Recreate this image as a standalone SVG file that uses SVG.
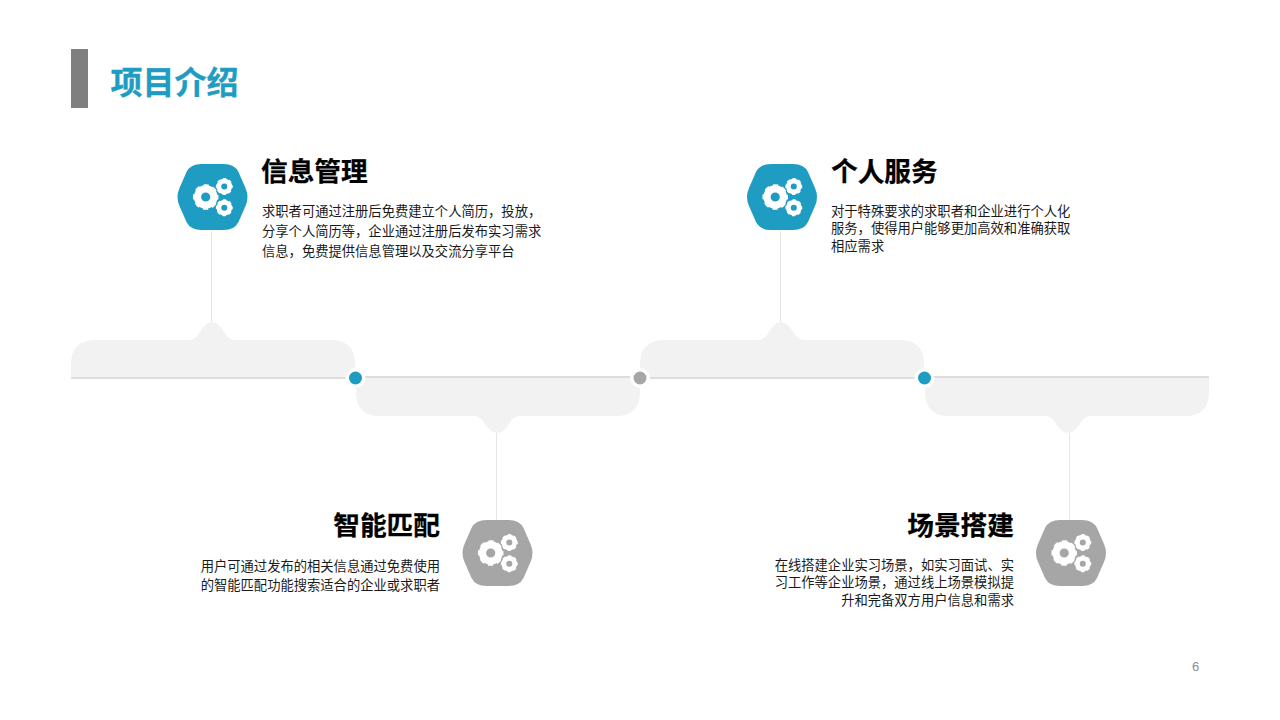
<svg xmlns="http://www.w3.org/2000/svg" width="1280" height="720" viewBox="0 0 1280 720">
<style>
text{font-family:"Noto Sans CJK SC","Liberation Sans",sans-serif}
.h{font-size:26.7px;font-weight:700;fill:#000;stroke:#000;stroke-width:.25}
.b{font-size:13.3px;fill:#1a1a1a}
.r{text-anchor:end}
.band{fill:#f2f2f2}
.v{stroke:#e6e6e6;stroke-width:1;fill:none}
.ring{fill:#fff}
</style>
<defs>
<path id="hex" d="M-11 -33H11Q22 -33 26 -25L33 -9Q37 0 33 9L26 25Q22 33 11 33H-11Q-22 33 -26 25L-33 9Q-37 0 -33 -9L-26 -25Q-22 -33 -11 -33Z"/>
<g id="gear" fill="none" stroke="#fff">
<circle r="8.2" stroke-width="7.2"/>
<circle r="11.2" stroke-width="3.2" stroke-dasharray="5 3.8" stroke-dashoffset="2.5"/>
</g>
<g id="gears">
<use href="#gear" x="-5.300" y="0"/>
<use href="#gear" transform="translate(13.300 -10.500) scale(.66)"/>
<use href="#gear" transform="translate(13.300 10.700) scale(.66)"/>
</g>
</defs>
<rect x="71" y="49" width="17" height="59" fill="#7f7f7f"/>
<text x="110.500" y="94" font-size="32" font-weight="700" fill="#1f9cc2" stroke="#1f9cc2" stroke-width=".3">项目介绍</text>
<g id="connectors">
<path class="band" d="M71 378V364Q71 340 95 340H189Q194 340 198 335Q205 322 212 322Q219 322 226 335Q230 340 236 340H331Q355 340 355 364V378Z"/>
<path class="band" d="M640 378V364Q640 340 664 340H758Q763 340 767 335Q774 322 781 322Q788 322 795 335Q799 340 805 340H900Q924 340 924 364V378Z"/>
<path class="band" d="M356 378V392Q356 416 380 416H474Q479 416 483 421Q490 433 497 433Q504 433 511 421Q515 416 520 416H616Q640 416 640 392V378Z"/>
<path class="band" d="M925 378V392Q925 416 949 416H1045Q1050 416 1054 421Q1061 433 1068 433Q1075 433 1082 421Q1086 416 1091 416H1185Q1209 416 1209 392V378Z"/>
<path d="M71 378H355" stroke="#dedede" stroke-width="2" fill="none"/>
<path d="M355 377H640" stroke="#dedede" stroke-width="2" fill="none"/>
<path d="M640 378H924" stroke="#dedede" stroke-width="2" fill="none"/>
<path d="M924 377H1209" stroke="#dedede" stroke-width="2" fill="none"/>
<path class="v" d="M211.500 231V322"/>
<path class="v" d="M496.500 433V520"/>
<path class="v" d="M780.500 231V322"/>
<path class="v" d="M1069.500 433V520"/>
</g>
<g id="dot1"><circle class="ring" cx="355.500" cy="378" r="10"/><circle cx="355.500" cy="378" r="6.500" fill="#1f9cc2"/></g>
<g id="dot2"><circle class="ring" cx="640" cy="378" r="10"/><circle cx="640" cy="378" r="6.500" fill="#a6a6a6"/></g>
<g id="dot3"><circle class="ring" cx="924.500" cy="378" r="10"/><circle cx="924.500" cy="378" r="6.500" fill="#1f9cc2"/></g>
<g id="node1">
<use href="#hex" x="212.500" y="197" fill="#1f9cc2"/>
<use href="#gears" x="211" y="197"/>
<text class="h" x="261" y="181">信息管理</text>
<text class="b" x="262" y="216">求职者可通过注册后免费建立个人简历，投放，</text>
<text class="b" x="262" y="235.500">分享个人简历等，企业通过注册后发布实习需求</text>
<text class="b" x="262" y="255.500">信息，免费提供信息管理以及交流分享平台</text>
</g>
<g id="node2">
<use href="#hex" x="782" y="197" fill="#1f9cc2"/>
<use href="#gears" x="780.500" y="197"/>
<text class="h" x="831" y="181">个人服务</text>
<text class="b" x="831" y="216">对于特殊要求的求职者和企业进行个人化</text>
<text class="b" x="831" y="233">服务，使得用户能够更加高效和准确获取</text>
<text class="b" x="831" y="251">相应需求</text>
</g>
<g id="node3">
<use href="#hex" x="497.500" y="553" fill="#a6a6a6"/>
<use href="#gears" x="496" y="553"/>
<text class="h r" x="440" y="535">智能匹配</text>
<text class="b r" x="440" y="571">用户可通过发布的相关信息通过免费使用</text>
<text class="b r" x="440" y="590">的智能匹配功能搜索适合的企业或求职者</text>
</g>
<g id="node4">
<use href="#hex" x="1071" y="553" fill="#a6a6a6"/>
<use href="#gears" x="1069.500" y="553"/>
<text class="h r" x="1014" y="535">场景搭建</text>
<text class="b r" x="1014" y="570">在线搭建企业实习场景，如实习面试、实</text>
<text class="b r" x="1014" y="587">习工作等企业场景，通过线上场景模拟提</text>
<text class="b r" x="1014" y="605">升和完备双方用户信息和需求</text>
</g>
<text x="1192" y="671" font-size="13" fill="#8c8c8c" style="font-family:'Liberation Sans',sans-serif">6</text>
</svg>
